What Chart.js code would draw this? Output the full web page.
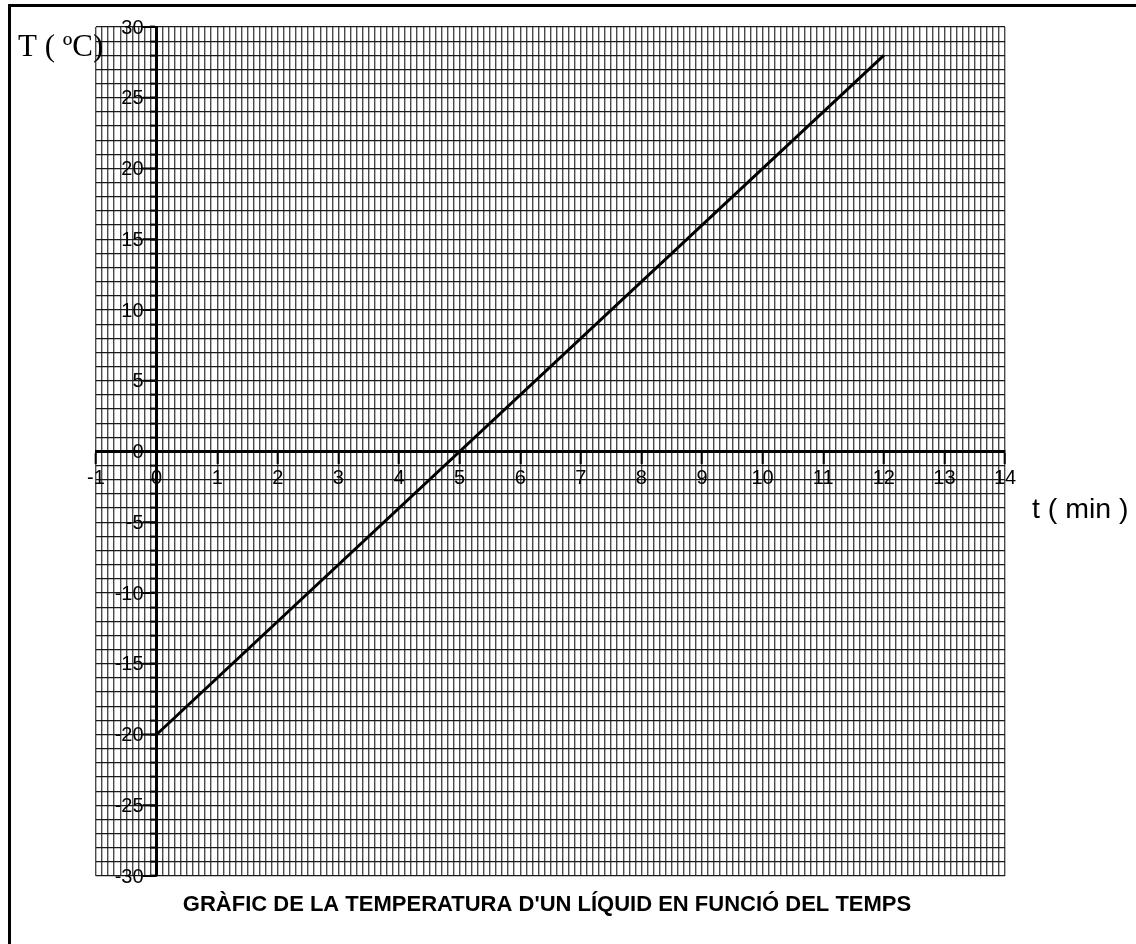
<!DOCTYPE html>
<html>
<head>
<meta charset="utf-8">
<title>Gràfic de la temperatura</title>
<script src="https://cdn.jsdelivr.net/npm/chart.js@4.4.1/dist/chart.umd.min.js"></script>
<style>
    html, body { margin: 0; padding: 0; background: #fff; overflow: hidden; }
    #chartTemp { display: block; }
</style>
</head>
<body>
<canvas id="chartTemp" width="1136" height="944"></canvas>
<script>
// Data
const timeMin = [0, 12];
const tempC = [-20, 28];

// Axis labels
const xTickLabels = [-1, 0, 1, 2, 3, 4, 5, 6, 7, 8, 9, 10, 11, 12, 13, 14];
const yTickLabels = [30, 25, 20, 15, 10, 5, 0, -5, -10, -15, -20, -25, -30];

const chartTitle = "GRÀFIC DE LA TEMPERATURA D'UN LÍQUID EN FUNCIÓ DEL TEMPS";
const yAxisName = 'T ( ºC)';
const xAxisName = 't ( min )';

const sansFont = "'Liberation Sans', Arial, sans-serif";
const serifFont = "'Liberation Serif', 'Times New Roman', serif";

function isWhole(v) {
    return Math.abs(v - Math.round(v)) < 1e-6;
}

// Frame, y tick labels, long ticks and axis names
const decorPlugin = {
    id: 'decor',
    beforeDraw(chart) {
        const ctx = chart.ctx;
        ctx.save();
        ctx.fillStyle = '#fff';
        ctx.fillRect(0, 0, chart.width, chart.height);
        ctx.strokeStyle = '#000';
        ctx.lineWidth = 3;
        ctx.strokeRect(9.5, 5.5, 1400, 1200);
        ctx.restore();
    },
    afterDatasetsDraw(chart) {
        const ctx = chart.ctx;
        const xs = chart.scales.x;
        const ys = chart.scales.y;
        const axisX = xs.getPixelForValue(0);
        ctx.save();

        // longer ticks every 5 degrees plus labels
        ctx.strokeStyle = '#000';
        ctx.lineWidth = 2;
        ctx.fillStyle = '#000';
        ctx.font = '20px ' + sansFont;
        ctx.textAlign = 'right';
        ctx.textBaseline = 'middle';
        yTickLabels.forEach(v => {
            const py = ys.getPixelForValue(v);
            ctx.beginPath();
            ctx.moveTo(axisX - 14, py);
            ctx.lineTo(axisX, py);
            ctx.stroke();
            ctx.fillText(String(v), axisX - 13, py + 1);
        });

        // axis names
        ctx.textAlign = 'left';
        ctx.textBaseline = 'alphabetic';
        ctx.font = '31px ' + serifFont;
        ctx.fillText(yAxisName, 18, 56);
        ctx.font = '28.5px ' + sansFont;
        ctx.fillText(xAxisName, 1032, 518);

        // title under the grid
        ctx.textAlign = 'center';
        ctx.font = 'bold 22px ' + sansFont;
        ctx.fillText(chartTitle, 547, 911);
        ctx.restore();
    }
};

const tempChart = new Chart(document.getElementById('chartTemp'), {
    type: 'line',
    data: {
        datasets: [{
            label: 'T',
            data: timeMin.map((t, i) => ({ x: t, y: tempC[i] })),
            borderColor: '#000',
            borderWidth: 3,
            pointRadius: 0,
            fill: false,
            tension: 0
        }]
    },
    options: {
        responsive: false,
        animation: false,
        devicePixelRatio: 1,
        layout: {
            padding: { left: 96, right: 131, top: 27, bottom: 68 }
        },
        plugins: {
            legend: { display: false },
            tooltip: { enabled: false }
        },
        scales: {
            x: {
                type: 'linear',
                position: { y: 0 },
                min: -1,
                max: 14,
                grid: {
                    color: '#4a4a4a',
                    lineWidth: 1.4,
                    tickLength: 11,
                    tickWidth: 2,
                    tickColor: ctx => isWhole(ctx.tick.value) ? '#000' : 'rgba(0,0,0,0)'
                },
                border: { color: '#000', width: 3 },
                ticks: {
                    stepSize: 0.1,
                    autoSkip: false,
                    maxRotation: 0,
                    minRotation: 0,
                    padding: 4,
                    color: '#000',
                    font: { family: sansFont, size: 20 },
                    callback: v => (isWhole(v) && xTickLabels.includes(Math.round(v))) ? String(Math.round(v)) : ''
                }
            },
            y: {
                type: 'linear',
                position: { x: 0 },
                min: -30,
                max: 30,
                grid: {
                    color: '#1a1a1a',
                    lineWidth: 1.2,
                    tickLength: 5,
                    tickWidth: 2,
                    tickColor: '#000'
                },
                border: { color: '#000', width: 3 },
                ticks: {
                    stepSize: 1,
                    autoSkip: false,
                    display: false
                }
            }
        }
    },
    plugins: [decorPlugin]
});
</script>
</body>
</html>
